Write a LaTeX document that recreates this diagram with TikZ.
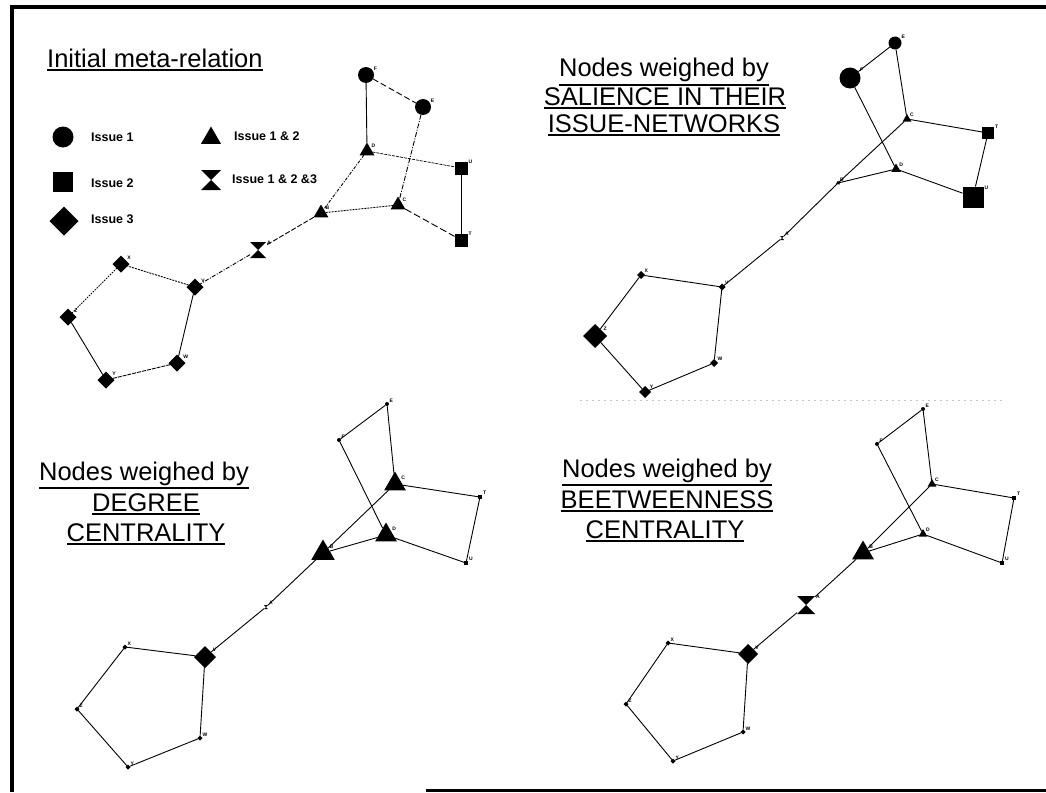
\documentclass[tikz,border=0pt]{standalone}
\usepackage{fontspec}
\setmainfont{Liberation Sans}
\usetikzlibrary{shapes.geometric}

% heavier underline for the panel titles
\newcommand{\ulx}[1]{\leavevmode\vtop{\hbox{#1}\kern1.6pt\hrule height 1.7pt}}

\tikzset{
  mk/.style={fill=black, draw=none, inner sep=0pt, outer sep=0pt},
  circ/.style={mk, circle, minimum size=#1},
  sq/.style={mk, rectangle, minimum size=#1},
  dia/.style={mk, diamond, aspect=1, minimum size=#1},
  tri/.style={mk, regular polygon, regular polygon sides=3, minimum size=#1},
  hglass/.style={rectangle, draw=none, inner sep=0pt, outer sep=0pt, minimum size=#1,
    path picture={\fill (path picture bounding box.north west) -- (path picture bounding box.north east)
      -- (path picture bounding box.south west) -- (path picture bounding box.south east) -- cycle;}},
  lbl/.style={font=\fontsize{5}{5}\selectfont\bfseries, inner sep=0.8pt},
  nl/.style={label={[lbl]30:#1}},
  edge/.style={line width=0.9pt, black},
  ttl/.style={font=\fontsize{25.5}{30}\selectfont, inner sep=0pt, anchor=base},
  leg/.style={font=\fontsize{12.5}{14}\selectfont\bfseries, inner sep=0pt, anchor=west},
  frame/.style={line width=3.5pt, black}
}

\begin{document}
\begin{tikzpicture}[x=1pt,y=-1pt]
\useasboundingbox (0,0) rectangle (1046,792);
\fill[white] (0,0) rectangle (1046,792);

% outer frame (left, top and the lower right run)
\draw[frame] (12,7) -- (12,792);
\draw[frame] (10,7) -- (1046,7);
\draw[line width=3pt] (426,790) -- (1046,790);
\draw[gray!45, line width=0.6pt, dash pattern=on 2pt off 4pt] (580,400) -- (1005,400);

% ---------------- Initial meta-relation ----------------
\node[ttl, anchor=base west] (t1) at (47,67) {\ulx{Initial meta-relation}};

% legend
\node[circ=21] (k1) at (63,137) {};
\node[leg] (k1t) at (91,137) {Issue 1};
\node[sq=20] (k2) at (63,182) {};
\node[leg] (k2t) at (91,183) {Issue 2};
\node[dia=29] (k3) at (64,221) {};
\node[leg] (k3t) at (91,219) {Issue 3};
\node[tri=23] (k4) at (211,138) {};
\node[leg] (k4t) at (234,136) {Issue 1 \& 2};
\node[hglass=20] (k5) at (211,180) {};
\node[leg] (k5t) at (232,179) {Issue 1 \& 2 \&3};

% network
\node[circ=16, nl=F] (Fa) at (366,75) {};
\node[circ=16, nl=E] (Ea) at (423,107) {};
\node[tri=17, nl=D] (Da) at (367,151) {};
\node[tri=17, nl=C] (Ca) at (398,205) {};
\node[tri=17, nl=B] (Ba) at (321,213) {};
\node[sq=13, nl=U] (Ua) at (461,168) {};
\node[sq=13, nl=T] (Ta) at (461,240) {};
\node[hglass=16, nl=A] (Aa) at (258,250) {};
\node[dia=17, nl=V] (Va) at (195,287) {};
\node[dia=17, nl=X] (Xa) at (121,264) {};
\node[dia=17, nl=Z] (Za) at (68,317) {};
\node[dia=17, nl=Y] (Ya) at (106,380) {};
\node[dia=17, nl=W] (Wa) at (177,363) {};

\draw[edge, dash pattern=on 6pt off 3pt] (Fa) -- (Ea);
\draw[edge] (Fa) -- (Da);
\draw[edge, dash pattern=on 5pt off 1.5pt on 1pt off 1.5pt] (Ea) -- (Ca);
\draw[edge, line width=0.7pt, dash pattern=on 3pt off 1pt] (Da) -- (Ua);
\draw[edge, dash pattern=on 3pt off 1.5pt on 1pt off 1.5pt] (Da) -- (Ba);
\draw[edge, dash pattern=on 2pt off 1pt] (Ba) -- (Ca);
\draw[edge, dash pattern=on 7pt off 3pt] (Ca) -- (Ta);
\draw[edge] (Ua) -- (Ta);
\draw[edge, dash pattern=on 5pt off 2pt] (Ba) -- (Aa);
\draw[edge, dash pattern=on 4pt off 1.5pt on 1pt off 1.5pt] (Aa) -- (Va);
\draw[edge, dash pattern=on 2pt off 1pt] (Va) -- (Xa);
\draw[edge, dash pattern=on 1.5pt off 1.2pt] (Xa) -- (Za);
\draw[edge] (Za) -- (Ya);
\draw[edge, dash pattern=on 4pt off 1pt] (Ya) -- (Wa);
\draw[edge] (Wa) -- (Va);

% ---------------- Salience ----------------
\node[ttl] (t2a) at (664,77) {\ulx{Nodes weighed by}};
\node[ttl] (t2b) at (665,105) {\ulx{SALIENCE IN THEIR}};
\node[ttl] (t2c) at (664,132) {\ulx{ISSUE-NETWORKS}};

\node[circ=13, nl=E] (Eb) at (895,43) {};
\node[circ=21, nl=F] (Fb) at (850,78) {};
\node[tri=10, nl=C] (Cb) at (907,119) {};
\node[sq=12, nl=T] (Tb) at (988,133) {};
\node[tri=11, nl=D] (Db) at (896,169) {};
\node[sq=21, nl=U] (Ub) at (973,197) {};
\node[tri=5, nl=B] (Bb) at (838,183) {};
\node[hglass=4, nl=A] (Ab) at (782,238) {};
\node[dia=7, nl=V] (Vb) at (722,287) {};
\node[dia=8, nl=X] (Xb) at (641,275) {};
\node[dia=24, nl=Z] (Zb) at (595,336) {};
\node[dia=8, nl=W] (Wb) at (714,363) {};
\node[dia=12, nl=Y] (Yb) at (645,392) {};

% ---------------- Degree ----------------
\node[ttl] (t3a) at (144,480) {\ulx{Nodes weighed by}};
\node[ttl] (t3b) at (146,511) {\ulx{DEGREE}};
\node[ttl] (t3c) at (146,541) {\ulx{CENTRALITY}};

\node[circ=4, nl=E] (Ec) at (387,404) {};
\node[circ=4, nl=F] (Fc) at (339,440) {};
\node[tri=25, nl=C] (Cc) at (395,484) {};
\node[sq=4, nl=T] (Tc) at (480,497) {};
\node[tri=25, nl=D] (Dc) at (386,535) {};
\node[sq=4, nl=U] (Uc) at (466,563) {};
\node[tri=27, nl=B] (Bc) at (323,553) {};
\node[hglass=4, nl=A] (Ac) at (266,607) {};
\node[dia=22, nl=V] (Vc) at (205,657) {};
\node[dia=5, nl=X] (Xc) at (125,647) {};
\node[dia=5, nl=Z] (Zc) at (77,709) {};
\node[dia=5, nl=W] (Wc) at (200,738) {};
\node[dia=5, nl=Y] (Yc) at (128,767) {};

% ---------------- Betweenness ----------------
\node[ttl] (t4a) at (667,477) {\ulx{Nodes weighed by}};
\node[ttl] (t4b) at (667,508) {\ulx{BEETWEENNESS}};
\node[ttl] (t4c) at (665,538) {\ulx{CENTRALITY}};

\node[circ=4, nl=E] (Ed) at (923,409) {};
\node[circ=4, nl=F] (Fd) at (877,444) {};
\node[tri=10, nl=C] (Cd) at (932,484) {};
\node[sq=4, nl=T] (Td) at (1014,498) {};
\node[tri=10, nl=D] (Dd) at (923,534) {};
\node[sq=4, nl=U] (Ud) at (1002,563) {};
\node[tri=25, nl=B] (Bd) at (863,553) {};
\node[hglass=18, nl=A] (Ad) at (806,605) {};
\node[dia=20, nl=V] (Vd) at (748,654) {};
\node[dia=5, nl=X] (Xd) at (668,643) {};
\node[dia=5, nl=Z] (Zd) at (626,704) {};
\node[dia=5, nl=W] (Wd) at (743,732) {};
\node[dia=5, nl=Y] (Yd) at (673,761) {};

% edges shared by the three weighted networks
\foreach \s in {b,c,d} {
  \draw[edge] (E\s) -- (F\s);
  \draw[edge] (E\s) -- (C\s);
  \draw[edge] (F\s) -- (D\s);
  \draw[edge] (C\s) -- (T\s);
  \draw[edge] (T\s) -- (U\s);
  \draw[edge] (D\s) -- (U\s);
  \draw[edge] (C\s) -- (B\s);
  \draw[edge] (D\s) -- (B\s);
  \draw[edge] (B\s) -- (A\s);
  \draw[edge] (A\s) -- (V\s);
  \draw[edge] (V\s) -- (X\s);
  \draw[edge] (X\s) -- (Z\s);
  \draw[edge] (Z\s) -- (Y\s);
  \draw[edge] (Y\s) -- (W\s);
  \draw[edge] (W\s) -- (V\s);
}
\end{tikzpicture}
\end{document}
